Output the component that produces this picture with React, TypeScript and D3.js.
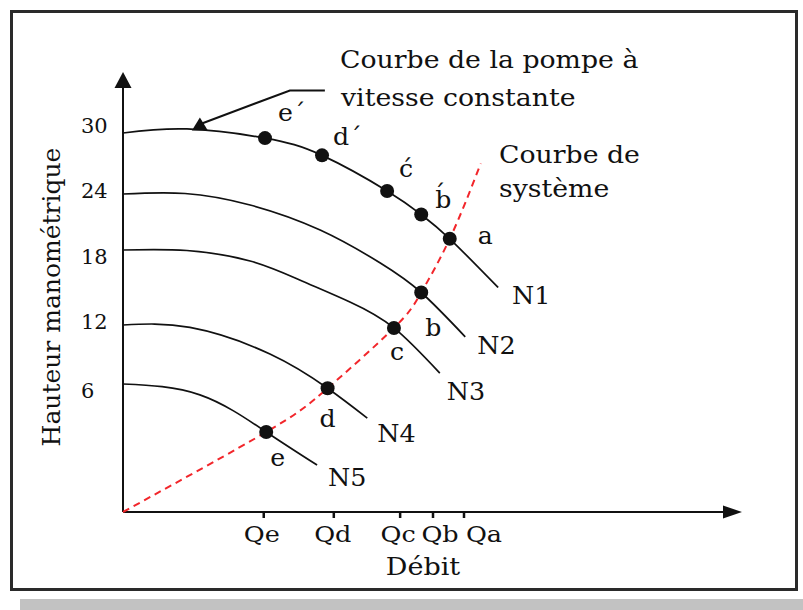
import React from "react";
import * as d3 from "d3";

// Head (Hauteur manométrique) tick values
const headTicks = [6, 12, 18, 24, 30];

// Flow (Débit) ticks, arbitrary flow units
const flowTickLabels = ["Qe", "Qd", "Qc", "Qb", "Qa"];
const flowTickValues = [22.7, 34.0, 44.7, 50.0, 55.0];

// Pump curves at decreasing speeds: [flow, head]
const pumpCurveNames = ["N1", "N2", "N3", "N4", "N5"];
const curveN1 = [[0, 30], [10.3, 30.4], [22.9, 29.5], [32.1, 27.8], [42.6, 24.3], [48.1, 21.8], [52.7, 19.2], [60.5, 15.0]];
const curveN2 = [[0, 24], [10.0, 24.05], [20.5, 22.82], [31.8, 20.14], [41.5, 16.96], [48.1, 14.6], [55.2, 10.8]];
const curveN3 = [[0, 18], [10.3, 17.96], [20.5, 17.12], [28.5, 15.6], [36.6, 13.84], [43.7, 11.7], [51.1, 7.1]];
const curveN4 = [[0, 12], [10.8, 11.75], [23.7, 9.05], [33.0, 5.8], [39.4, 4.4]];
const curveN5 = [[0, 6], [12.4, 5.49], [23.1, 3.75], [31.3, 2.2]];

// System curve (courbe de système)
const systemCurve = [[0, 0], [23.1, 3.75], [33.0, 5.8], [43.7, 11.7], [48.1, 14.6], [52.7, 19.2], [57.7, 27.0]];

// Operating points: system curve x pump curves
const operatingNames = ["a", "b", "c", "d", "e"];
const operatingPoints = [[52.7, 19.2], [48.1, 14.6], [43.7, 11.7], [33.0, 5.8], [23.1, 3.75]];

// Points on the constant-speed curve N1
const constSpeedNames = ["b\u0301", "c\u0301", "d\u00b4", "e\u00b4"];
const constSpeedPoints = [[48.1, 21.8], [42.6, 24.3], [32.1, 27.8], [22.9, 29.5]];

// Triangle marker on N1 that the annotation points to
const markerPoint = [12.4, 30.35];

const FONT = "DejaVu Serif";
const INK = "#111";

function T({ x, y, size, sx = 1, anchor = "start", rotate = 0, children }: any) {
  return (
    <text
      transform={`translate(${x},${y})${rotate ? ` rotate(${rotate})` : ""} scale(${sx},1)`}
      fontSize={size}
      textAnchor={anchor}
      fontFamily={FONT}
      fill={INK}
    >
      {children}
    </text>
  );
}

export default function App() {
  const W = 803;
  const H = 610;
  const x0 = 123;
  const y0 = 512;

  const x = d3.scaleLinear().domain([0, 100]).range([x0, 743]);
  const y = d3.scaleLinear().domain([0, 6, 12, 18, 24, 30]).range([y0, 384, 325, 250, 194, 133]);

  const line = d3
    .line<number[]>()
    .x((d) => x(d[0]))
    .y((d) => y(d[1]))
    .curve(d3.curveNatural);

  const pumpCurves = [curveN1, curveN2, curveN3, curveN4, curveN5];

  // label offsets (px) relative to ticks, curve ends and points
  const flowLabelDx = [-2, -1, -2, 7, 20];
  const headLabelDy = [14, 4, 14, 4, 0];
  const curveLabelOffsets = [[14, 16], [12, 17], [7, 27], [10, 24], [11, 21]];
  const opLabelOffsets = [[28, 5], [4, 43], [-4, 32], [-8, 39], [4, 34]];
  const csLabelOffsets = [[14, -7], [12, -14], [11, -10], [13, -17]];

  const mx = x(markerPoint[0]);
  const my = y(markerPoint[1]);

  return (
    <svg
      width={W}
      height={H}
      style={{ position: "absolute", left: 0, top: 0, display: "block", background: "#fff" }}
    >
      <rect x={0} y={0} width={W} height={H} fill="#fff" />
      <rect x={20} y={599} width={783} height={11} fill="#c2c2c2" />
      <rect x={11.5} y={11.5} width={785} height={578} fill="#fff" stroke="#2a2a2a" strokeWidth={3} />

      {/* axes */}
      <line x1={x0} y1={y0} x2={x0} y2={86} stroke={INK} strokeWidth={2} />
      <path d={`M${x0},72 L${x0 - 8.5},88 L${x0 + 8.5},88 Z`} fill={INK} />
      <line x1={x0} y1={y0} x2={725} y2={y0} stroke={INK} strokeWidth={2} />
      <path d={`M742,${y0} L723,${y0 - 6.5} L723,${y0 + 6.5} Z`} fill={INK} />

      {/* flow ticks */}
      {flowTickValues.map((q, i) => (
        <g key={flowTickLabels[i]}>
          <line x1={x(q)} y1={y0} x2={x(q)} y2={y0 + 6} stroke={INK} strokeWidth={2.5} />
          <T x={x(q) + flowLabelDx[i]} y={542} size={22} sx={1.16} anchor="middle">
            {flowTickLabels[i]}
          </T>
        </g>
      ))}
      <T x={423} y={575} size={25} sx={1.08} anchor="middle">
        Débit
      </T>

      {/* head tick labels */}
      {headTicks.map((v, i) => (
        <T key={v} x={81} y={y(v) + headLabelDy[i]} size={20} sx={1.05}>
          {v}
        </T>
      ))}
      <T x={60} y={297} size={25} sx={1.0} anchor="middle" rotate={-90}>
        Hauteur manométrique
      </T>

      {/* pump curves */}
      {pumpCurves.map((c, i) => {
        const end = c[c.length - 1];
        return (
          <g key={pumpCurveNames[i]}>
            <path d={line(c) || ""} fill="none" stroke={INK} strokeWidth={1.7} />
            <T x={x(end[0]) + curveLabelOffsets[i][0]} y={y(end[1]) + curveLabelOffsets[i][1]} size={24} sx={1.06}>
              {pumpCurveNames[i]}
            </T>
          </g>
        );
      })}

      {/* system curve */}
      <path
        d={line(systemCurve) || ""}
        fill="none"
        stroke="#f2262b"
        strokeWidth={2}
        strokeDasharray="7 5"
      />

      {/* operating points */}
      {operatingPoints.map((p, i) => (
        <g key={operatingNames[i]}>
          <circle cx={x(p[0])} cy={y(p[1])} r={7} fill={INK} />
          <T x={x(p[0]) + opLabelOffsets[i][0]} y={y(p[1]) + opLabelOffsets[i][1]} size={24} sx={1.05}>
            {operatingNames[i]}
          </T>
        </g>
      ))}
      {constSpeedPoints.map((p, i) => (
        <g key={constSpeedNames[i]}>
          <circle cx={x(p[0])} cy={y(p[1])} r={7} fill={INK} />
          <T x={x(p[0]) + csLabelOffsets[i][0]} y={y(p[1]) + csLabelOffsets[i][1]} size={24} sx={1.05}>
            {constSpeedNames[i]}
          </T>
        </g>
      ))}

      {/* annotation: constant-speed pump curve */}
      <path d={`M${mx},${my - 12} L${mx - 8},${my + 1} L${mx + 8},${my + 1} Z`} fill={INK} />
      <polyline
        points={`${mx + 2},${my - 6} ${mx + 90},${my - 39} ${mx + 125},${my - 39}`}
        fill="none"
        stroke={INK}
        strokeWidth={2}
      />
      <T x={340} y={68} size={25} sx={1.07}>
        Courbe de la pompe à
      </T>
      <T x={341} y={106} size={25} sx={1.07}>
        vitesse constante
      </T>

      {/* annotation: system curve */}
      <T x={499} y={163} size={25} sx={1.07}>
        Courbe de
      </T>
      <T x={499} y={197} size={25} sx={1.07}>
        système
      </T>
    </svg>
  );
}
